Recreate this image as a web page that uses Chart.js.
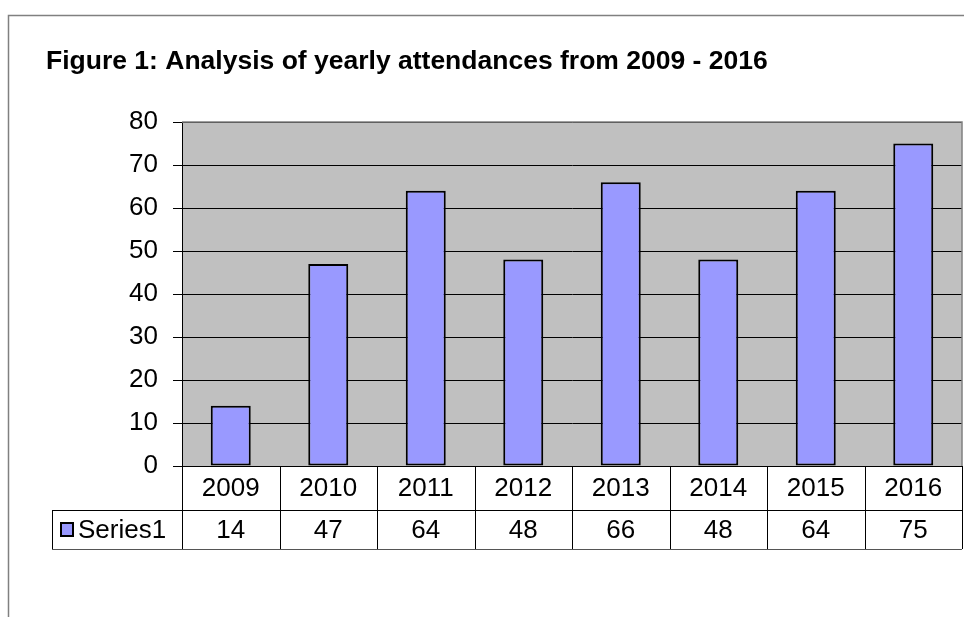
<!DOCTYPE html>
<html>
<head>
<meta charset="utf-8">
<script src="https://cdn.jsdelivr.net/npm/chart.js@4/dist/chart.umd.min.js"></script>
<style>
  html, body { margin: 0; padding: 0; background: #fff; }
  #wrap { width: 964px; height: 617px; position: relative; }
</style>
</head>
<body>
<div id="wrap"><canvas id="myChart" width="964" height="617"></canvas></div>
<script>
const years = ['2009', '2010', '2011', '2012', '2013', '2014', '2015', '2016'];
const series1 = [14, 47, 64, 48, 66, 48, 64, 75];
const yTicks = [0, 10, 20, 30, 40, 50, 60, 70, 80];
const seriesName = 'Series1';
const titleText = 'Figure 1: Analysis of yearly attendances from 2009 - 2016';

const fontFamily = '"Liberation Sans", Arial, sans-serif';

// frame, title, plot background
const backdrop = {
    id: 'backdrop',
    beforeDraw(chart) {
        const c = chart.ctx;
        const a = chart.chartArea;
        c.save();
        c.strokeStyle = '#808080';
        c.lineWidth = 1.5;
        c.beginPath();
        c.moveTo(8.5, 617);
        c.lineTo(8.5, 15.5);
        c.lineTo(964, 15.5);
        c.stroke();

        c.fillStyle = '#000';
        c.font = 'bold 26.5px ' + fontFamily;
        c.textBaseline = 'alphabetic';
        c.textAlign = 'left';
        c.fillText(titleText, 46, 69);

        c.fillStyle = '#C0C0C0';
        c.fillRect(a.left, a.top, a.right - a.left, a.bottom - a.top);
        c.restore();
    },
    afterDatasetsDraw(chart) {
        const c = chart.ctx;
        const a = chart.chartArea;
        c.save();
        c.strokeStyle = '#808080';
        c.lineWidth = 1.5;
        c.beginPath();
        c.moveTo(a.left, a.top);
        c.lineTo(a.right, a.top);
        c.lineTo(a.right, a.bottom);
        c.stroke();
        c.restore();
    }
};

// data table under the plot
const dataTable = {
    id: 'dataTable',
    afterDraw(chart) {
        const c = chart.ctx;
        const a = chart.chartArea;
        const x = chart.scales.x;
        const row1 = a.bottom, row2 = a.bottom + 44, row3 = a.bottom + 83;
        const legendLeft = 52;
        const n = years.length;
        const step = (a.right - a.left) / n;
        c.save();
        c.strokeStyle = '#000';
        c.lineWidth = 1;
        c.beginPath();
        c.moveTo(legendLeft, row2 + 0.5); c.lineTo(a.right, row2 + 0.5);
        c.moveTo(legendLeft + 0.5, row2); c.lineTo(legendLeft + 0.5, row3);
        for (let i = 0; i <= n; i++) {
            const px = Math.round(a.left + i * step) + 0.5;
            c.moveTo(px, row1); c.lineTo(px, row3);
        }
        c.stroke();
        c.strokeStyle = '#555';
        c.beginPath();
        c.moveTo(legendLeft, row3 + 0.5); c.lineTo(a.right, row3 + 0.5);
        c.stroke();

        c.fillStyle = '#000';
        c.font = '26px ' + fontFamily;
        c.textAlign = 'center';
        c.textBaseline = 'middle';
        years.forEach((y, i) => {
            const cx = x.getPixelForValue(i);
            c.fillText(y, cx, (row1 + row2) / 2 + 1);
            c.fillText(String(series1[i]), cx, (row2 + row3) / 2 + 1);
        });

        // legend key
        c.fillStyle = '#9999FF';
        c.fillRect(61, row2 + 13, 12, 13);
        c.lineWidth = 2;
        c.strokeStyle = '#000';
        c.strokeRect(61, row2 + 13, 12, 13);
        c.fillStyle = '#000';
        c.textAlign = 'left';
        c.fillText(seriesName, 78, (row2 + row3) / 2 + 1);
        c.restore();
    }
};

const ctx = document.getElementById('myChart').getContext('2d');
const myChart = new Chart(ctx, {
    type: 'bar',
    data: {
        labels: years,
        datasets: [{
            label: seriesName,
            data: series1,
            backgroundColor: '#9999FF',
            borderColor: '#000',
            borderWidth: 2,
            borderSkipped: false,
            categoryPercentage: 1,
            barPercentage: 0.41
        }]
    },
    options: {
        responsive: false,
        animation: false,
        layout: { padding: { top: 122, right: 2, bottom: 151, left: 0 } },
        plugins: {
            legend: { display: false },
            title: { display: false },
            tooltip: { enabled: false }
        },
        scales: {
            x: { display: false },
            y: {
                min: 0,
                max: 80,
                afterBuildTicks(scale) { scale.ticks = yTicks.map(v => ({ value: v })); },
                afterFit(scale) { scale.width = 182; },
                ticks: {
                    color: '#000',
                    font: { family: fontFamily, size: 26 },
                    padding: 15
                },
                grid: {
                    color: '#000',
                    lineWidth: 1,
                    tickLength: 9,
                    tickColor: '#000'
                },
                border: { color: '#000', width: 1 }
            }
        }
    },
    plugins: [backdrop, dataTable]
});
</script>
</body>
</html>
